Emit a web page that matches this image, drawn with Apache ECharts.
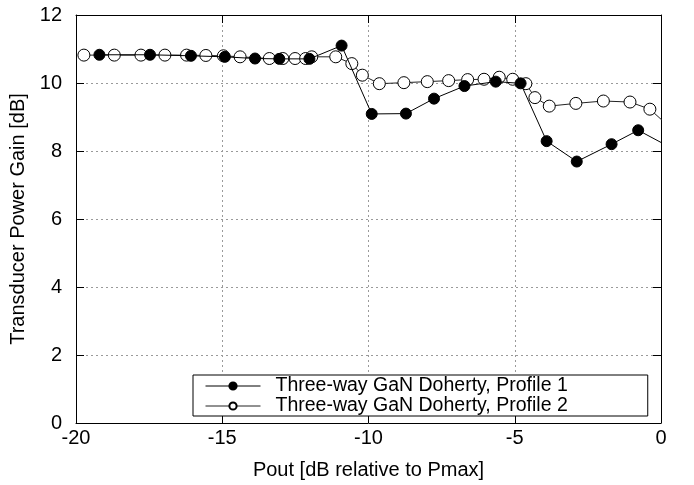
<!DOCTYPE html>
<html>
<head>
<meta charset="utf-8">
<script src="https://cdn.jsdelivr.net/npm/echarts@6/dist/echarts.min.js"></script>
<style>html,body{margin:0;padding:0;background:#fff}#c{width:694px;height:485px}</style>
</head>
<body>
<div id="c"></div>
<script>
const xTitle = 'Pout [dB relative to Pmax]';
const yTitle = 'Transducer Power Gain [dB]';
const name1 = 'Three-way GaN Doherty, Profile 1';
const name2 = 'Three-way GaN Doherty, Profile 2';

const p1x = [-19.20,-17.47,-16.07,-14.91,-13.88,-13.05,-12.02,-10.92,-9.89,-8.72,-7.76,-6.72,-5.65,-4.80,-3.91,-2.88,-1.69,-0.78,0.20];
const p1y = [10.83,10.83,10.80,10.77,10.72,10.71,10.71,11.10,9.09,9.10,9.54,9.91,10.04,9.99,8.29,7.69,8.20,8.61,8.16];

const p2x = [-19.73,-18.69,-17.78,-16.96,-16.22,-15.56,-14.96,-14.39,-13.39,-12.93,-12.51,-12.15,-11.94,-11.12,-10.57,-10.21,-9.63,-8.79,-7.99,-7.26,-6.61,-6.05,-5.53,-5.07,-4.62,-4.31,-3.82,-2.91,-1.97,-1.06,-0.38,0.30];
const p2y = [10.82,10.82,10.82,10.82,10.82,10.81,10.80,10.77,10.72,10.72,10.72,10.72,10.77,10.77,10.57,10.23,9.98,10.01,10.04,10.07,10.10,10.11,10.17,10.11,9.98,9.57,9.32,9.40,9.47,9.44,9.23,8.70];

const xMin = -20, xMax = 0, xStep = 5;
const yMin = 0, yMax = 12, yStep = 2;

const zip = (a, b) => a.map((v, i) => [v, b[i]]);
const font = 'Liberation Sans, Arial, sans-serif';
const gridLine = () => ({show: true, lineStyle: {color: '#9a9a9a', type: [2, 3], width: 1}});
const axisLine = () => ({show: true, onZero: false, lineStyle: {color: '#000', width: 1}});
const tick = () => ({show: true, inside: true, length: 8, lineStyle: {color: '#000', width: 1}});

const chart = echarts.init(document.getElementById('c'), null, {renderer: 'canvas'});
chart.setOption({
  animation: false,
  backgroundColor: '#fff',
  textStyle: {fontFamily: font},
  grid: {left: 76, right: 33, top: 15, bottom: 59},
  xAxis: [{
    type: 'value', position: 'bottom', min: xMin, max: xMax, interval: xStep,
    axisLine: axisLine(), axisTick: tick(), splitLine: gridLine(),
    axisLabel: {color: '#000', fontSize: 20, margin: 5, fontFamily: font},
    name: xTitle, nameLocation: 'middle', nameGap: 37,
    nameTextStyle: {color: '#000', fontSize: 20, fontFamily: font}
  }, {
    type: 'value', position: 'top', min: xMin, max: xMax, interval: xStep,
    axisLine: axisLine(), axisTick: tick(), splitLine: {show: false}, axisLabel: {show: false}
  }],
  yAxis: [{
    type: 'value', position: 'left', min: yMin, max: yMax, interval: yStep,
    axisLine: axisLine(), axisTick: tick(), splitLine: gridLine(),
    axisLabel: {color: '#000', fontSize: 20, margin: 14, fontFamily: font},
    name: yTitle, nameLocation: 'middle', nameGap: 45,
    nameTextStyle: {color: '#000', fontSize: 20, fontFamily: font}
  }, {
    type: 'value', position: 'right', min: yMin, max: yMax, interval: yStep,
    axisLine: axisLine(), axisTick: tick(), splitLine: {show: false}, axisLabel: {show: false}
  }],
  legend: {
    data: [name1, name2],
    orient: 'vertical',
    left: 193, top: 375,
    itemWidth: 55, itemHeight: 9, itemGap: 0,
    padding: [1, 80, 0, 12],
    backgroundColor: '#fff',
    borderColor: '#000', borderWidth: 1, borderRadius: 0,
    lineStyle: {width: 1},
    textStyle: {color: '#000', fontSize: 19.5, lineHeight: 19, fontFamily: font, padding: [0,0,0,10]}
  },
  series: [{
    name: name2, type: 'line', data: zip(p2x, p2y),
    symbol: 'circle', symbolSize: 12, clip: true,
    lineStyle: {color: '#222', width: 1},
    itemStyle: {color: '#fff', borderColor: '#000', borderWidth: 1},
    z: 2
  }, {
    name: name1, type: 'line', data: zip(p1x, p1y),
    symbol: 'circle', symbolSize: 11, clip: true,
    lineStyle: {color: '#000', width: 1},
    itemStyle: {color: '#000', borderColor: '#000', borderWidth: 1},
    z: 3
  }]
});
</script>
</body>
</html>
